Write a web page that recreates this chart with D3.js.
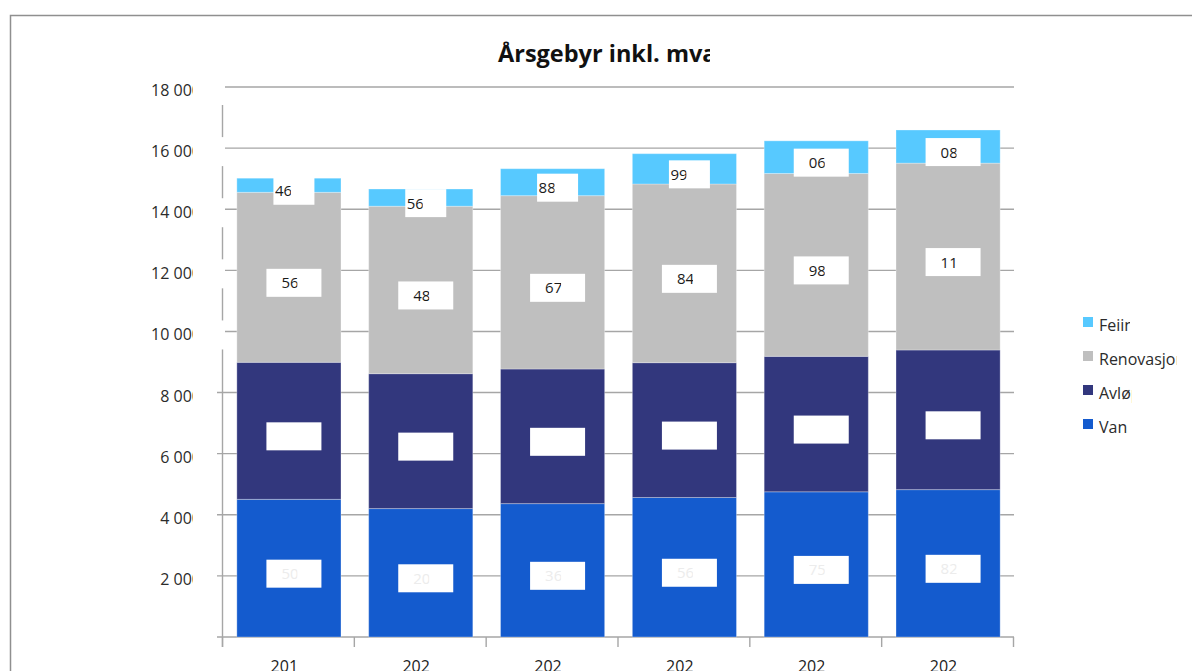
<!DOCTYPE html>
<html lang="no">
<head>
    <meta charset="UTF-8">
    <title>Årsgebyr inkl. mva</title>
    <script src="https://cdn.jsdelivr.net/npm/d3@7/dist/d3.min.js"></script>
    <style>
        body { margin: 0; background: #fff; }
        svg text { font-family: "Open Sans", sans-serif; }
        .ylab { font-size: 16px; fill: #2b2b2b; text-anchor: end; }
        .xlab { font-size: 16px; fill: #222; text-anchor: middle; }
        .dlab { font-size: 15px; }
        .leg text { font-size: 16px; fill: #2b2b2b; }
        .title { font-size: 23.5px; font-weight: bold; fill: #111; }
    </style>
</head>
<body>
<svg width="1192" height="671"></svg>
<script>
    // data
    var years = ["2019", "2020", "2021", "2022", "2023", "2024"];
    var vann = [4505, 4203, 4365, 4565, 4752, 4823];
    var avlop = [4485, 4415, 4406, 4413, 4433, 4570];
    var renovasjon = [5563, 5480, 5673, 5847, 5985, 6115];
    var feiing = [462, 564, 882, 993, 1068, 1085];
    var yTicks = [2000, 4000, 6000, 8000, 10000, 12000, 14000, 16000, 18000];

    var keys = ["Vann", "Avløp", "Renovasjon", "Feiing"];
    var colors = ["#145bce", "#32377d", "#bfbfbf", "#57c9ff"];
    var textColors = ["#ececec", "#ffffff", "#1a1a1a", "#1a1a1a"];
    var legendClip = [31, 77.7, 32.7, 28.7]; // Feiing, Renovasjon, Avløp, Vann

    var rows = years.map(function(y, i) {
        return { year: y, "Vann": vann[i], "Avløp": avlop[i], "Renovasjon": renovasjon[i], "Feiing": feiing[i] };
    });

    var svg = d3.select("svg");
    var defs = svg.append("defs");
    var clipId = 0;
    function clip(x, y, w, h) {
        var id = "c" + (clipId++);
        defs.append("clipPath").attr("id", id)
            .append("rect").attr("x", x).attr("y", y).attr("width", w).attr("height", h);
        return "url(#" + id + ")";
    }

    // frame
    svg.append("path")
        .attr("d", "M10.5,671V15.5H1192")
        .attr("fill", "none").attr("stroke", "#8f8f8f").attr("stroke-width", 1.5);

    var y = d3.scaleLinear().domain([0, 18000]).range([637, 87]);
    var x = d3.scaleBand().domain(years).range([223, 1014])
        .paddingInner(0.21).paddingOuter(0.105);

    // gridlines
    svg.append("g").selectAll("line")
        .data(yTicks).enter().append("line")
        .attr("x1", 217).attr("x2", 1014)
        .attr("y1", function(d) { return y(d); })
        .attr("y2", function(d) { return y(d); })
        .attr("stroke", "#a6a6a6").attr("stroke-width", 1.4);

    // axes lines
    svg.append("line").attr("x1", 222.5).attr("x2", 222.5).attr("y1", y(18000)).attr("y2", 647)
        .attr("stroke", "#a6a6a6").attr("stroke-width", 1.4);
    svg.append("line").attr("x1", 217).attr("x2", 1014).attr("y1", y(0)).attr("y2", y(0))
        .attr("stroke", "#a6a6a6").attr("stroke-width", 1.4);
    svg.append("g").selectAll("line")
        .data(d3.range(years.length + 1)).enter().append("line")
        .attr("x1", function(i) { return x.range()[0] + i * x.step() - 0.5; })
        .attr("x2", function(i) { return x.range()[0] + i * x.step() - 0.5; })
        .attr("y1", y(0)).attr("y2", 647)
        .attr("stroke", "#a6a6a6").attr("stroke-width", 1.4);

    // y labels with their white boxes
    var fmt = function(v) { return d3.format(",")(v).replace(/,/g, " "); };
    var yl = svg.append("g");
    yTicks.forEach(function(t) {
        if (t >= 10000) {
            yl.append("rect").attr("x", 150).attr("y", y(t) - 11)
                .attr("width", 75).attr("height", 29).attr("fill", "#fff");
        }
        yl.append("text").attr("class", "ylab")
            .attr("x", 201).attr("y", y(t) + 9)
            .attr("clip-path", clip(100, y(t) - 20, 93, 40))
            .text(fmt(t));
    });

    // stacked bars
    var series = d3.stack().keys(keys)(rows);
    var layers = svg.append("g").selectAll("g")
        .data(series).enter().append("g")
        .attr("fill", function(d, i) { return colors[i]; });

    layers.selectAll("rect")
        .data(function(d) { return d; }).enter().append("rect")
        .attr("x", function(d) { return x(d.data.year); })
        .attr("width", x.bandwidth())
        .attr("y", function(d) { return y(d[1]); })
        .attr("height", function(d) { return y(d[0]) - y(d[1]); })
        .attr("stroke", "rgba(255,255,255,0.3)").attr("stroke-width", 1);

    // data labels (white boxes, clipped text)
    var lab = svg.append("g");
    series.forEach(function(s, k) {
        s.forEach(function(d) {
            var v = d[1] - d[0];
            var big = v >= 1000;
            var w = big ? 55 : 41;
            var cx = x(d.data.year) + x.bandwidth() / 2 + 5;
            var cy = (y(d[0]) + y(d[1])) / 2 + 5.5;
            var bx = cx - w / 2, by = cy - 14;
            lab.append("rect").attr("x", bx).attr("y", by)
                .attr("width", w).attr("height", 28).attr("fill", "#fff");
            var tx = bx + (big ? 15 : 1.5);
            var str = String(Math.round(v));
            lab.append("text").attr("class", "dlab")
                .attr("x", tx).attr("y", by + 19.5)
                .attr("fill", textColors[k])
                .attr("clip-path", clip(tx, by, 16, 28))
                .text(str.slice(-3));
        });
    });

    // x labels
    svg.append("g").selectAll("text")
        .data(years).enter().append("text")
        .attr("class", "xlab")
        .attr("x", function(d) { return x(d) + x.bandwidth() / 2; })
        .attr("y", 672)
        .attr("clip-path", function(d) {
            return clip(x(d), 640, x.bandwidth() / 2 + 8.5, 40);
        })
        .text(function(d) { return d; });

    // title
    svg.append("text").attr("class", "title")
        .attr("x", 498).attr("y", 62)
        .attr("clip-path", clip(480, 30, 230, 50))
        .text("Årsgebyr inkl. mva");

    // legend
    var legKeys = keys.slice().reverse();
    var leg = svg.append("g").attr("class", "leg");
    legKeys.forEach(function(k, i) {
        var ci = keys.indexOf(k);
        var ty = 317 + i * 34;
        leg.append("rect").attr("x", 1083).attr("y", ty)
            .attr("width", 10).attr("height", 10).attr("fill", colors[ci]);
        leg.append("text").attr("x", 1099).attr("y", ty + 14)
            .attr("clip-path", clip(1095, ty - 10, 4 + legendClip[i], 30))
            .text(k);
    });
</script>
</body>
</html>
